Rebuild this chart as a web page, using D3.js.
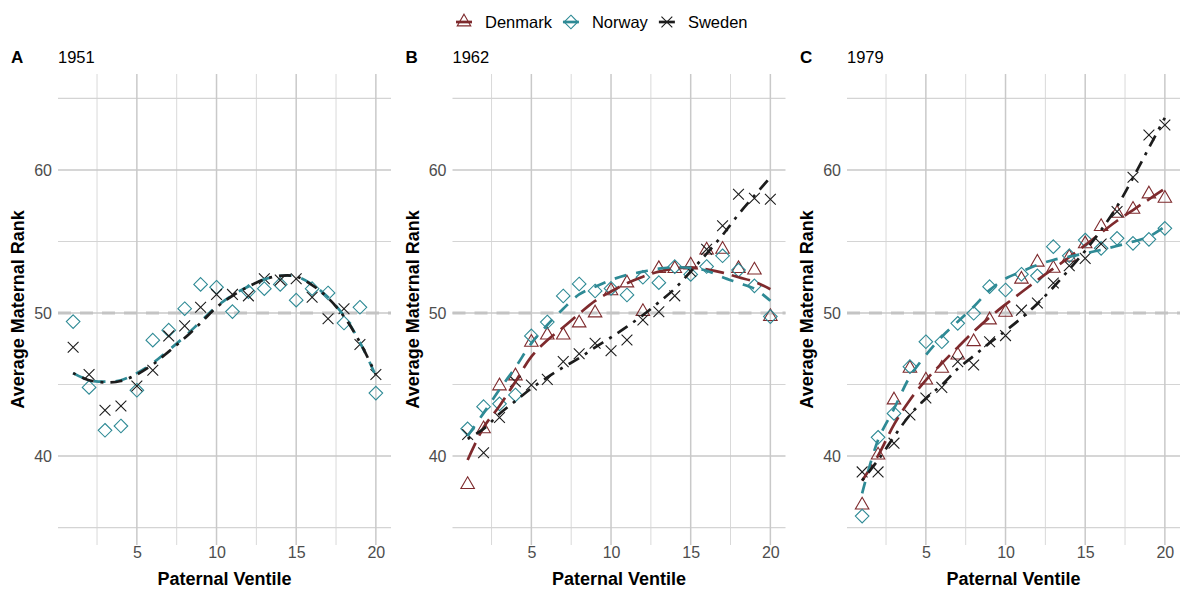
<!DOCTYPE html>
<html><head><meta charset="utf-8">
<script src="https://cdn.jsdelivr.net/npm/d3@7"></script>
<style>
body{margin:0;background:#fff;}
svg{display:block;font-family:"Liberation Sans",Arial,Helvetica,sans-serif;}
</style>
</head><body>
<svg id="chart" width="1182" height="591"></svg>
<script>
// ---------------- data ----------------
const ventiles = [1,2,3,4,5,6,7,8,9,10,11,12,13,14,15,16,17,18,19,20];
const panelTags = ["A","B","C"];
const panelYears = ["1951","1962","1979"];
const countries = ["Denmark","Norway","Sweden"];
const xTickValues = [5,10,15,20];
const xMinorValues = [2.5,7.5,12.5,17.5];
const yTickValues = [40,50,60];
const yMinorValues = [35,45,55,65];
const referenceRank = 50;

// observed average maternal rank (points)
const norway1951 = [49.4,44.8,41.8,42.1,44.6,48.1,48.8,50.3,52.0,51.8,50.1,51.5,51.7,52.0,50.9,51.7,51.4,49.3,50.4,44.4];
const sweden1951 = [47.6,45.7,43.2,43.5,44.9,46.0,48.4,49.1,50.4,51.3,51.3,51.2,52.4,52.3,52.4,51.1,49.6,50.3,47.8,45.7];

const denmark1962 = [38.0,41.9,44.9,45.6,47.95,48.45,48.45,49.3,50.0,51.55,52.1,50.1,53.1,53.1,53.35,54.4,54.45,53.1,53.0,49.75];
const norway1962 = [41.9,43.45,43.65,44.27,48.4,49.37,51.19,52.03,51.54,51.72,51.26,52.5,52.12,53.24,52.7,53.25,54.0,53.0,51.9,49.75];
const sweden1962 = [41.5,40.23,42.7,45.2,44.97,45.36,46.6,47.15,47.88,47.36,48.11,49.51,50.09,51.2,52.9,54.45,56.1,58.3,58.02,57.95];

const denmark1979 = [36.57,40.07,43.92,46.13,45.31,46.13,47.06,47.99,49.51,50.05,52.36,53.55,53.12,53.9,54.83,56.04,56.97,57.25,58.32,58.02];
const norway1979 = [35.8,41.31,42.98,46.25,47.99,47.99,49.28,49.98,51.84,51.61,52.71,52.6,54.64,54.0,55.1,54.52,55.22,54.87,55.15,55.92];
const sweden1979 = [38.89,38.89,40.9,42.87,44.06,44.8,46.6,46.36,47.99,48.42,50.2,50.7,52.1,53.3,53.82,54.83,57.09,59.49,62.45,63.15];

// smoothed fits (lines)
const norwayFit1951 = [45.8,45.3,45.2,45.3,45.8,46.5,47.4,48.35,49.4,50.45,51.25,51.85,52.35,52.6,52.55,52.0,51.1,49.8,47.95,45.6];
const swedenFit1951 = [45.8,45.3,45.15,45.25,45.7,46.4,47.3,48.25,49.3,50.4,51.2,51.85,52.35,52.6,52.55,51.95,51.05,49.75,47.95,45.7];

const denmarkFit1962 = [39.72,42.0,43.5,45.2,46.95,48.1,49.0,49.95,50.85,51.5,52.08,52.54,52.89,53.1,53.19,53.05,52.82,52.5,52.19,51.66];
const norwayFit1962 = [41.4,43.0,44.65,46.2,47.88,49.16,50.3,51.3,51.84,52.31,52.66,52.89,53.1,53.2,53.15,52.95,52.5,52.1,51.7,50.85];
const swedenFit1962 = [41.2,41.9,42.95,43.85,44.73,45.5,46.2,46.85,47.6,48.3,49.05,49.85,50.75,51.7,52.9,54.15,55.45,56.9,58.2,59.5];

const denmarkFit1979 = [38.28,40.03,42.2,43.92,45.31,46.48,47.6,48.7,49.7,50.6,51.45,52.3,53.1,53.9,54.75,55.6,56.45,57.2,57.95,58.7];
const norwayFit1979 = [37.39,41.12,43.3,45.55,47.06,48.34,49.39,50.44,51.6,52.4,52.89,53.36,53.71,53.94,54.17,54.41,54.69,54.99,55.34,56.04];
const swedenFit1979 = [38.3,39.72,41.35,42.87,44.03,44.97,46.1,47.0,47.9,48.75,49.65,50.65,51.8,53.05,54.35,55.8,57.45,59.45,61.55,63.65];

// ---------------- styling ----------------
const colors = {Denmark:"#7E2A2D", Norway:"#2E8A95", Sweden:"#1C1C1C"};
const dashes = {Denmark:"19,8", Norway:"12,10", Sweden:"3,7,12,7"};
const lineWidth = 2.7;

const panels = [
  {tag:panelTags[0], year:panelYears[0], series:[
    {country:"Norway", pts:norway1951, fit:norwayFit1951},
    {country:"Sweden", pts:sweden1951, fit:swedenFit1951}]},
  {tag:panelTags[1], year:panelYears[1], series:[
    {country:"Denmark", pts:denmark1962, fit:denmarkFit1962},
    {country:"Norway", pts:norway1962, fit:norwayFit1962},
    {country:"Sweden", pts:sweden1962, fit:swedenFit1962}]},
  {tag:panelTags[2], year:panelYears[2], series:[
    {country:"Denmark", pts:denmark1979, fit:denmarkFit1979},
    {country:"Norway", pts:norway1979, fit:norwayFit1979},
    {country:"Sweden", pts:sweden1979, fit:swedenFit1979}]}
];

const svg = d3.select("#chart");
const panelLefts = [58, 452.5, 847];
const panelW = 333, plotTop = 74, plotBottom = 545;

function shapePath(country){
  if(country==="Denmark"){
    const r=7.8, xc=r*Math.sqrt(3)/2;
    return `M0,${-r}L${xc},${r/2}L${-xc},${r/2}Z`;
  }
  if(country==="Norway"){
    const r=6.8;
    return `M0,${-r}L${r},0L0,${r}L${-r},0Z`;
  }
  const r=5.4;
  return `M${-r},${-r}L${r},${r}M${-r},${r}L${r},${-r}`;
}

panels.forEach((p,pi)=>{
  const left = panelLefts[pi];
  const x = d3.scaleLinear().domain([0.05,20.95]).range([left,left+panelW]);
  const y = d3.scaleLinear().domain([33.78,66.71]).range([plotBottom,plotTop]);
  const g = svg.append("g");

  // grid
  g.selectAll(".vminor").data(xMinorValues).join("line")
    .attr("x1",d=>x(d)).attr("x2",d=>x(d)).attr("y1",plotTop).attr("y2",plotBottom)
    .attr("stroke","#d9d9d9").attr("stroke-width",1);
  g.selectAll(".hminor").data(yMinorValues).join("line")
    .attr("y1",d=>y(d)).attr("y2",d=>y(d)).attr("x1",left).attr("x2",left+panelW)
    .attr("stroke","#d4d4d4").attr("stroke-width",1.2);
  g.selectAll(".vmajor").data(xTickValues).join("line")
    .attr("x1",d=>x(d)).attr("x2",d=>x(d)).attr("y1",plotTop).attr("y2",plotBottom)
    .attr("stroke","#c9c9c9").attr("stroke-width",1.5);
  g.selectAll(".hmajor").data(yTickValues).join("line")
    .attr("y1",d=>y(d)).attr("y2",d=>y(d)).attr("x1",left).attr("x2",left+panelW)
    .attr("stroke","#c9c9c9").attr("stroke-width",1.5);

  // reference line at 50
  g.append("line")
    .attr("x1",left).attr("x2",left+panelW)
    .attr("y1",y(referenceRank)).attr("y2",y(referenceRank))
    .attr("stroke","#c4c4c4").attr("stroke-width",3).attr("stroke-dasharray","13,9");

  // axes
  const xAxis = g.append("g").attr("transform",`translate(0,${plotBottom})`)
    .call(d3.axisBottom(x).tickValues(xTickValues).tickSize(0).tickPadding(2));
  const yAxis = g.append("g").attr("transform",`translate(${left},0)`)
    .call(d3.axisLeft(y).tickValues(yTickValues).tickSize(0).tickPadding(6));
  [xAxis,yAxis].forEach(a=>{
    a.select(".domain").remove();
    a.selectAll("text").attr("font-size",16).attr("fill","#4d4d4d")
      .attr("font-family",'"Liberation Sans",Arial,sans-serif');
  });

  // axis titles
  g.append("text").attr("x",left+panelW/2).attr("y",584.5).attr("text-anchor","middle")
    .attr("font-size",18).attr("font-weight","bold").attr("fill","#000").text("Paternal Ventile");
  g.append("text").attr("transform",`translate(${left-34},${(plotTop+plotBottom)/2}) rotate(-90)`)
    .attr("text-anchor","middle").attr("font-size",18).attr("font-weight","bold").attr("fill","#000")
    .text("Average Maternal Rank");

  // tag and year
  g.append("text").attr("x",left-47).attr("y",63).attr("font-size",17).attr("font-weight","bold").text(p.tag);
  g.append("text").attr("x",left).attr("y",63).attr("font-size",16.5).text(p.year);

  // points
  p.series.forEach(s=>{
    g.append("g").selectAll("path").data(ventiles).join("path")
      .attr("transform",(d,i)=>`translate(${x(d)},${y(s.pts[i])})`)
      .attr("d",shapePath(s.country))
      .attr("fill","none").attr("stroke",colors[s.country]).attr("stroke-width",1.1);
  });
  // fitted lines
  const line = d3.line().x((d,i)=>x(ventiles[i])).y(d=>y(d)).curve(d3.curveCatmullRom.alpha(0.5));
  p.series.forEach(s=>{
    g.append("path").attr("d",line(s.fit)).attr("fill","none")
      .attr("stroke",colors[s.country]).attr("stroke-width",lineWidth)
      .attr("stroke-dasharray",dashes[s.country]);
  });
});

// legend
const legend = svg.append("g");
let kx = 464;
const ly = 22;
countries.forEach(c=>{
  const item = legend.append("g");
  item.append("line").attr("x1",kx-8).attr("x2",kx+8).attr("y1",ly).attr("y2",ly)
    .attr("stroke",colors[c]).attr("stroke-width",lineWidth);
  item.append("path").attr("transform",`translate(${kx},${ly})`).attr("d",shapePath(c))
    .attr("fill","none").attr("stroke",colors[c]).attr("stroke-width",1.1);
  const t = item.append("text").attr("x",kx+21).attr("y",ly+6).attr("font-size",16.5).attr("fill","#000").text(c);
  const w = t.node().getComputedTextLength();
  kx = kx + 21 + w + 19;
});
</script>
</body></html>
